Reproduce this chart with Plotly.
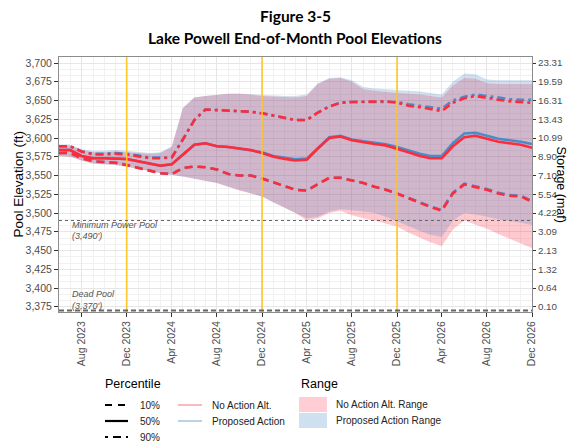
import pandas as pd
import plotly.graph_objects as go

# months Jun 2023 .. Dec 2026 (end-of-month values)
months = pd.date_range("2023-06-01", "2026-12-01", freq="MS")

# No Action Alternative (ft)
na_p10 = [3580, 3580, 3573, 3569, 3568, 3567, 3564, 3560, 3556, 3553, 3552, 3560, 3562, 3561, 3558,
          3552, 3550, 3550, 3546, 3541, 3535, 3531, 3530, 3538, 3547, 3547, 3543, 3540, 3535, 3531,
          3526, 3520, 3513, 3508, 3503, 3526, 3538, 3535, 3531, 3526, 3523, 3522, 3515]
na_p50 = [3584, 3584, 3576, 3573, 3573, 3573, 3572, 3569, 3566, 3563, 3565, 3578, 3591, 3593, 3589,
          3588, 3586, 3584, 3580, 3575, 3572, 3570, 3571, 3586, 3600, 3602, 3597, 3594, 3592, 3590,
          3586, 3581, 3576, 3573, 3573, 3589, 3601, 3603, 3599, 3595, 3593, 3591, 3587]
na_p90 = [3589, 3589, 3582, 3578, 3578, 3579, 3578, 3575, 3573, 3573, 3574, 3598, 3624, 3638, 3637,
          3636, 3636, 3635, 3633, 3630, 3627, 3624, 3624, 3634, 3642, 3647, 3648, 3648, 3648, 3649,
          3647, 3643, 3641, 3639, 3636, 3647, 3653, 3656, 3653, 3651, 3649, 3648, 3647]
na_max = [3590, 3590, 3584, 3581, 3581, 3582, 3581, 3580, 3579, 3580, 3588, 3640, 3654, 3656, 3658,
          3659, 3659, 3658, 3656, 3655, 3654, 3654, 3656, 3672, 3679, 3680, 3675, 3665, 3663, 3661,
          3660, 3659, 3658, 3656, 3654, 3670, 3680, 3679, 3673, 3672, 3672, 3672, 3672]
na_min = [3576, 3575, 3570, 3566, 3565, 3564, 3562, 3559, 3556, 3553, 3551, 3549, 3546, 3543, 3540,
          3535, 3530, 3526, 3522, 3514, 3507, 3500, 3490, 3493, 3500, 3503, 3497, 3493, 3490, 3486,
          3482, 3474, 3467, 3461, 3456, 3478, 3490, 3485, 3479, 3472, 3465, 3459, 3453]

# Proposed Action (ft)
pa_p10 = [3580, 3580, 3573, 3569, 3568, 3567, 3564, 3560, 3556, 3553, 3552, 3560, 3562, 3561, 3558,
          3552, 3550, 3550, 3546, 3541, 3535, 3531, 3530, 3538, 3547, 3547, 3543, 3540, 3535, 3531,
          3526, 3520, 3514, 3509, 3504, 3527, 3539, 3536, 3532, 3527, 3524, 3523, 3516]
pa_p50 = [3584, 3584, 3576, 3573, 3573, 3573, 3572, 3569, 3566, 3563, 3565, 3578, 3591, 3593, 3589,
          3588, 3586, 3584, 3581, 3576, 3573.5, 3571.5, 3572.5, 3587, 3601, 3603, 3598, 3595.5, 3593.5, 3591.5,
          3588, 3583, 3579, 3576, 3576, 3593, 3606, 3607, 3603, 3599, 3597, 3595, 3592]
pa_p90 = [3589, 3589, 3582, 3579, 3579, 3580, 3579, 3576, 3574, 3574, 3574, 3598, 3624, 3638, 3637,
          3636, 3636, 3635, 3633, 3630, 3627, 3624, 3624, 3634, 3642, 3647, 3648, 3648, 3648, 3649,
          3648, 3645, 3643, 3641, 3639, 3650, 3655, 3658, 3656, 3653, 3652, 3651, 3651]
pa_max = [3591, 3591, 3585, 3583, 3583, 3584, 3583, 3581, 3580, 3581, 3589, 3640, 3654, 3656, 3658,
          3659, 3659, 3658, 3657, 3656, 3656, 3656, 3658, 3673, 3680, 3681, 3677, 3668, 3666, 3665,
          3664, 3663, 3662, 3660, 3658, 3675, 3686, 3685, 3678, 3677, 3677, 3677, 3677]
pa_min = [3576, 3575, 3570, 3566, 3565, 3564, 3562, 3559, 3556, 3553, 3551, 3549, 3546, 3543, 3540,
          3535, 3530, 3526, 3522, 3514, 3507, 3500, 3493, 3495, 3502, 3505, 3503, 3502, 3500, 3495,
          3489, 3482, 3476, 3471, 3468, 3490, 3500, 3498, 3495, 3492, 3489, 3487, 3484]

# axis ticks
elev_ticks = [3375, 3400, 3425, 3450, 3475, 3500, 3525, 3550, 3575, 3600, 3625, 3650, 3675, 3700]
storage_ticks = ["0.10", "0.64", "1.32", "2.13", "3.09", "4.22", "5.54", "7.10", "8.90", "10.99",
                 "13.43", "16.31", "19.59", "23.31"]
date_ticks = pd.date_range("2023-08-01", "2026-12-01", freq="4MS")
dec_lines = ["2023-12-01", "2024-12-01", "2025-12-01"]
min_power_pool = 3490
dead_pool = 3370

RED = "#FF2B3B"
BLUE = "#4A8CC8"
PINK_FILL = "rgba(255,20,50,0.23)"
BLUE_FILL = "rgba(70,130,190,0.25)"
FONT = "Liberation Sans, Arial, sans-serif"

# the page adds an 8px body margin, so the figure is placed 8px in from the window corner
OFF = 8
# plot area in window pixels
L, R, T, B = 59, 532, 57, 312


def px_x(px):
    return (px - L) / (R - L)


def px_y(py):
    return (B - py) / (B - T)


def note(text, px, py, font, xanchor="left", angle=0):
    fig.add_annotation(x=px_x(px), y=px_y(py), xref="paper", yref="paper", text=text,
                       showarrow=False, xanchor=xanchor, yanchor="middle", textangle=angle,
                       font=font)


fig = go.Figure()

x = list(months)
xr = x + x[::-1]
fig.add_trace(go.Scatter(x=xr, y=na_max + na_min[::-1], fill="toself", fillcolor=PINK_FILL,
                         line=dict(width=0), hoverinfo="skip", showlegend=False))
fig.add_trace(go.Scatter(x=xr, y=pa_max + pa_min[::-1], fill="toself", fillcolor=BLUE_FILL,
                         line=dict(width=0), hoverinfo="skip", showlegend=False))

dashes = {"p10": "8px,5px", "p50": "solid", "p90": "8px,4px,3px,4px"}
for name, ys in [("p10", pa_p10), ("p50", pa_p50), ("p90", pa_p90)]:
    fig.add_trace(go.Scatter(x=x, y=ys, mode="lines", showlegend=False,
                             line=dict(color=BLUE, width=2.6, dash=dashes[name])))
for name, ys in [("p10", na_p10), ("p50", na_p50), ("p90", na_p90)]:
    fig.add_trace(go.Scatter(x=x, y=ys, mode="lines", showlegend=False,
                             line=dict(color=RED, width=2.6, dash=dashes[name])))

# invisible trace to carry the storage axis
fig.add_trace(go.Scatter(x=x, y=na_p50, yaxis="y2", mode="lines", line=dict(width=0),
                         opacity=0, hoverinfo="skip", showlegend=False))

for d in dec_lines:
    fig.add_vline(x=d, line_color="#FFC629", line_width=1.6)

fig.add_hline(y=min_power_pool, line_color="#666666", line_width=1, line_dash="dot")
fig.add_hline(y=dead_pool, line_color="#666666", line_width=1.8, line_dash="5px,3px")

note_font = dict(family=FONT, size=9, color="#555555")
for txt, yv in [("<i>Minimum Power Pool</i>", 3484), ("<i>(3,490')</i>", 3469.5),
                ("<i>Dead Pool</i>", 3392), ("<i>(3,370')</i>", 3376.5)]:
    fig.add_annotation(x=px_x(70), xref="paper", y=yv, yref="y", text=txt, showarrow=False,
                       xanchor="left", yanchor="middle", font=note_font)

# titles
title_font = dict(family="Lato, sans-serif", size=15.5, color="black")
note("<b>Figure 3-5</b>", 295, 16, title_font, xanchor="center")
note("<b>Lake Powell End-of-Month Pool Elevations</b>", 295, 38, title_font, xanchor="center")
axis_title_font = dict(family=FONT, size=13.5, color="black")
note("Pool Elevation (ft)", 18, (T + B) / 2, axis_title_font, xanchor="center", angle=-90)
note("Storage (maf)", 561, (T + B) / 2, dict(family=FONT, size=12.5, color="black"),
     xanchor="center", angle=90)

# legend (drawn by hand)
leg_font = dict(family=FONT, size=10, color="#222222")
head_font = dict(family=FONT, size=12.5, color="black")
note("Percentile", 103, 384, head_font)
note("Range", 299, 384, head_font)
for label, py, dash in [("10%", 405, "7px,6px"), ("50%", 421, "solid"), ("90%", 437, "3px,5px,8px,5px")]:
    fig.add_shape(type="line", xref="paper", yref="paper", x0=px_x(105), x1=px_x(128),
                  y0=px_y(py), y1=px_y(py), line=dict(color="black", width=2.2, dash=dash))
    note(label, 138, py, leg_font)
for label, py, col in [("No Action Alt.", 405, "#F58A93"), ("Proposed Action", 421, "#8DB3D6")]:
    fig.add_shape(type="line", xref="paper", yref="paper", x0=px_x(178), x1=px_x(202),
                  y0=px_y(py), y1=px_y(py), line=dict(color=col, width=1.2))
    note(label, 210, py, leg_font)
for label, y0, y1, col in [("No Action Alt. Range", 397, 412, "#FFCDD3"),
                           ("Proposed Action Range", 413, 428, "#CFE1F1")]:
    fig.add_shape(type="rect", xref="paper", yref="paper", x0=px_x(299), x1=px_x(327),
                  y0=px_y(y0), y1=px_y(y1), line=dict(width=0), fillcolor=col)
    note(label, 334, (y0 + y1) / 2, leg_font)

tick_font = dict(family=FONT, size=10.5, color="#4D4D4D")
fig.update_layout(
    width=575, height=442,
    margin=dict(l=L - OFF, r=575 - R + OFF, t=T - OFF, b=442 - B + OFF, autoexpand=False),
    paper_bgcolor="white", plot_bgcolor="white",
    showlegend=False,
    xaxis=dict(type="date", range=["2023-06-01", "2026-12-01"], automargin=False,
               tickvals=list(date_ticks), ticktext=[d.strftime("%b %Y") for d in date_ticks],
               tickangle=-90, tickfont=tick_font, ticks="outside", ticklen=4, tickcolor="#333333",
               showgrid=True, gridcolor="#E6E6E6", gridwidth=0.8,
               minor=dict(dtick="M1", tick0="2023-06-01", showgrid=True, gridcolor="#F1F1F1", gridwidth=0.6),
               showline=True, linecolor="#8C8C8C", linewidth=1, mirror=True, zeroline=False),
    yaxis=dict(range=[3368, 3708], tickvals=elev_ticks, tickformat=",d", automargin=False,
               tickfont=tick_font, ticks="outside", ticklen=4, tickcolor="#333333",
               showgrid=True, gridcolor="#E6E6E6", gridwidth=0.8,
               minor=dict(dtick=25 / 3, tick0=3375, showgrid=True, gridcolor="#F1F1F1", gridwidth=0.6),
               showline=True, linecolor="#8C8C8C", linewidth=1, mirror=True, zeroline=False),
    yaxis2=dict(overlaying="y", side="right", range=[3368, 3708], tickvals=elev_ticks,
                automargin=False, ticktext=storage_ticks,
                tickfont=dict(family=FONT, size=9.8, color="#4D4D4D"), ticks="outside",
                ticklen=3, tickcolor="#333333", showgrid=False, zeroline=False),
)

fig.write_html("out.html")
